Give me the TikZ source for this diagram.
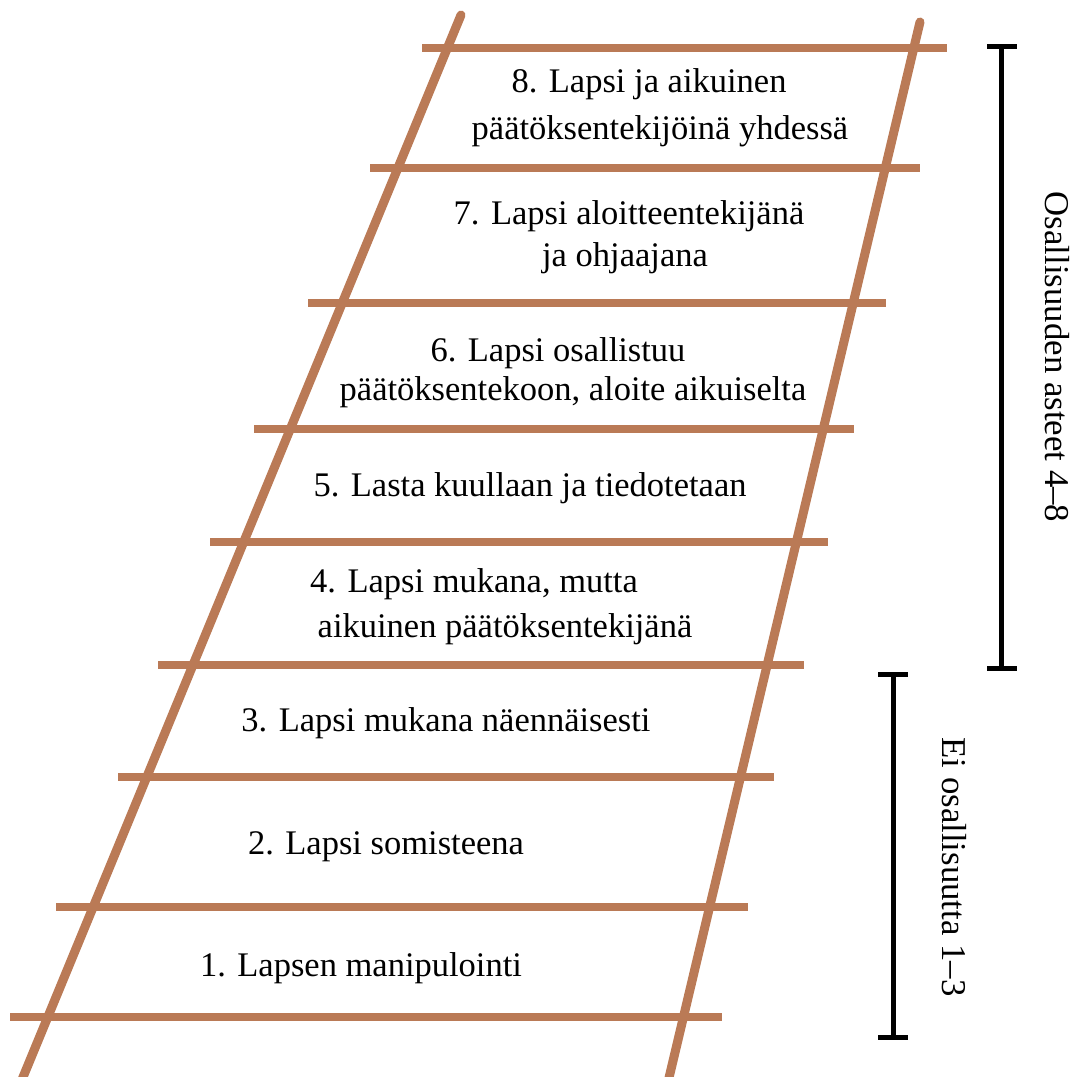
\documentclass[tikz,border=0pt]{standalone}
\usepackage{fontspec}
\setmainfont{Liberation Serif}
\definecolor{wood}{RGB}{186,122,86}
\begin{document}
\begin{tikzpicture}[x=1pt,y=-1pt,
  rail/.style={draw=wood,line width=9pt,line cap=round},
  rung/.style={draw=wood,line width=8pt},
  brk/.style={draw=black,line width=5pt},
  lbl/.style={anchor=mid,inner sep=0pt,font=\fontsize{34.5}{40}\selectfont},
  side/.style={anchor=mid,inner sep=0pt,rotate=-90,font=\fontsize{34.8}{40}\selectfont}]
\useasboundingbox (0,0) rectangle (1073,1077);
% rungs
\foreach \y/\xl/\xr [count=\i] in {48/422/947,168/370/920,303/308/886,429/254/854,542/210/828,665/158/804,777/118/774,907/56/748,1017/10/722}{
  \coordinate (rl\i) at (\xl,\y);
  \coordinate (rr\i) at (\xr,\y);
  \draw[rung] (rl\i) -- (rr\i);
}
% rails
\coordinate (lt) at (461,15);
\coordinate (lb) at (21,1082);
\coordinate (rt) at (920,22);
\coordinate (rb) at (668,1082);
\draw[rail] (lt) -- (lb);
\draw[rail] (rt) -- (rb);
% labels
\node[lbl] (t8a) at (649,90) {8. Lapsi ja aikuinen};
\node[lbl] (t8b) at (660,137) {päätöksentekijöinä yhdessä};
\node[lbl] (t7a) at (629,222) {7. Lapsi aloitteentekijänä};
\node[lbl] (t7b) at (625,264) {ja ohjaajana};
\node[lbl] (t6a) at (558,359) {6. Lapsi osallistuu};
\node[lbl] (t6b) at (573,398) {päätöksentekoon, aloite aikuiselta};
\node[lbl] (t5) at (530,494) {5. Lasta kuullaan ja tiedotetaan};
\node[lbl] (t4a) at (474,590) {4. Lapsi mukana, mutta};
\node[lbl] (t4b) at (505,635) {aikuinen päätöksentekijänä};
\node[lbl] (t3) at (446,729) {3. Lapsi mukana näennäisesti};
\node[lbl] (t2) at (386,852) {2. Lapsi somisteena};
\node[lbl] (t1) at (361,974) {1. Lapsen manipulointi};
% brackets
\coordinate (ua) at (1001,46);
\coordinate (ub) at (1001,668);
\draw[brk] (ua) -- (ub);
\draw[brk] ([xshift=-14pt]ua) -- ([xshift=16pt]ua);
\draw[brk] ([xshift=-14pt]ub) -- ([xshift=16pt]ub);
\coordinate (la) at (893,674);
\coordinate (lb2) at (893,1037);
\draw[brk] (la) -- (lb2);
\draw[brk] ([xshift=-15pt]la) -- ([xshift=15pt]la);
\draw[brk] ([xshift=-15pt]lb2) -- ([xshift=15pt]lb2);
\node[side] (up) at (1048,357) {Osallisuuden asteet 4–8};
\node[side] (lo) at (945,867) {Ei osallisuutta 1–3};
\end{tikzpicture}
\end{document}
